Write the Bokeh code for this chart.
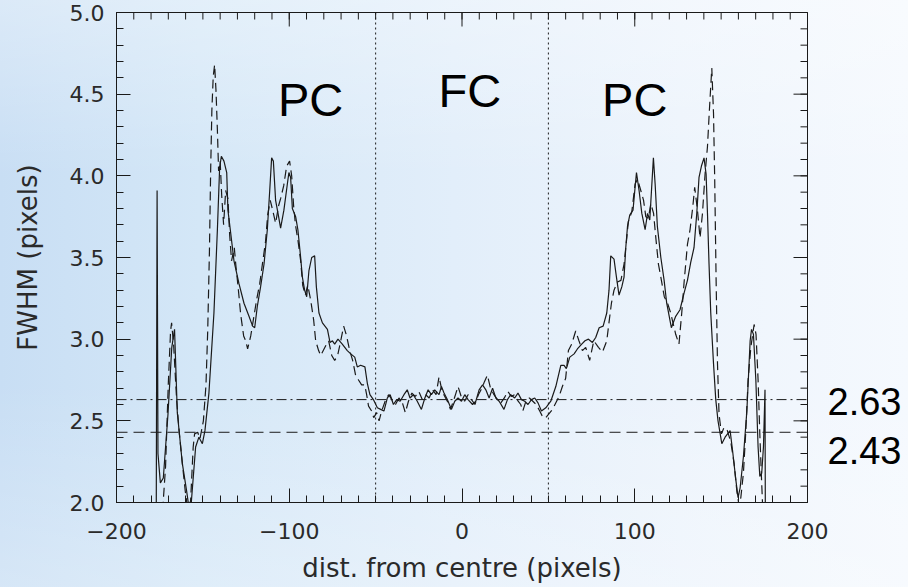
import math
from bokeh.plotting import figure
from bokeh.models import (ColumnDataSource, FixedTicker, LinearAxis, Span,
                          PrintfTickFormatter, Range1d)
from bokeh.core.properties import value
from bokeh.embed import file_html
from bokeh.resources import INLINE

# ---------------- data ----------------
solid_x = [-177.0, -176.5, -176.0, -174.6, -172.9, -170.2, -168.0, -166.4, -164.8, -161.9,
           -159.4, -157.8, -156.7, -154.2, -152.3, -150.3, -148.8, -146.5, -143.6, -141.6,
           -140.3, -139.3, -137.8, -136.2, -135.5, -133.9, -132.0, -129.1, -126.2, -123.3,
           -121.2, -120.0, -118.5, -116.6, -114.6, -112.7, -111.3, -110.2, -109.2, -107.9,
           -106.5, -105.0, -103.1, -101.1, -100.2, -99.2, -98.2, -96.3, -95.0, -93.4,
           -92.4, -91.1, -89.9, -88.6, -87.0, -85.3, -84.3, -82.8, -80.8, -77.9,
           -76.4, -75.0, -73.7, -71.8, -69.3, -66.4, -64.4, -62.1, -60.6, -58.7,
           -56.2, -54.8, -53.3, -51.3, -49.0, -47.1, -45.2, -43.2, -41.6, -39.7,
           -37.8, -35.8, -33.6, -31.7, -30.1, -28.2, -25.9, -23.5, -21.5, -19.6,
           -17.7, -15.8, -13.3, -11.9, -10.4, -8.5, -6.1, -4.2, -2.3, -0.3,
           1.6, 3.5, 6.1, 8.0, 9.9, 11.9, 13.8, 15.7, 17.7, 19.6,
           21.5, 24.3, 26.3, 28.2, 30.5, 32.4, 34.4, 36.3, 38.2, 40.2,
           42.1, 44.0, 46.0, 48.5, 51.4, 54.3, 57.2, 59.1, 60.4, 62.4,
           64.9, 66.8, 69.3, 71.2, 73.2, 75.5, 77.4, 79.4, 81.7, 83.8,
           85.1, 86.1, 88.0, 89.4, 90.9, 92.5, 93.8, 94.8, 95.8, 97.1,
           99.0, 100.2, 101.0, 102.5, 104.1, 106.0, 107.4, 108.7, 109.8, 110.8,
           111.8, 113.1, 115.1, 117.0, 118.5, 121.2, 123.7, 126.2, 128.5, 130.5,
           132.4, 134.3, 135.9, 137.2, 138.6, 140.1, 141.3, 142.1, 143.0, 144.0,
           145.6, 146.9, 148.2, 150.4, 152.3, 155.2, 156.6, 158.5, 159.8, 161.0,
           162.9, 164.9, 166.8, 167.6, 168.7, 170.1, 171.4, 172.4, 173.5, 174.5,
           175.4, 175.6]
solid_y = [1.90, 3.91, 2.30, 2.12, 2.15, 2.54, 2.95, 3.06, 2.55, 2.24,
           2.07, 1.95, 2.00, 2.34, 2.40, 2.36, 2.44, 2.67, 3.16, 3.67,
           4.05, 4.12, 4.09, 4.02, 3.79, 3.65, 3.48, 3.34, 3.22, 3.14,
           3.08, 3.07, 3.20, 3.32, 3.46, 3.67, 3.91, 4.11, 4.09, 3.85,
           3.77, 3.68, 3.79, 3.95, 4.02, 3.99, 3.80, 3.75, 3.67, 3.50,
           3.38, 3.30, 3.26, 3.42, 3.50, 3.51, 3.32, 3.16, 3.10, 3.06,
           2.98, 2.99, 2.97, 3.00, 2.97, 2.93, 2.91, 2.89, 2.83, 2.84,
           2.83, 2.73, 2.66, 2.63, 2.58, 2.57, 2.56, 2.64, 2.66, 2.60,
           2.63, 2.62, 2.66, 2.69, 2.64, 2.66, 2.62, 2.57, 2.64, 2.69,
           2.66, 2.69, 2.66, 2.71, 2.67, 2.63, 2.57, 2.62, 2.64, 2.62,
           2.66, 2.63, 2.60, 2.62, 2.69, 2.72, 2.69, 2.64, 2.70, 2.64,
           2.62, 2.57, 2.63, 2.66, 2.64, 2.67, 2.63, 2.62, 2.60, 2.63,
           2.64, 2.61, 2.56, 2.58, 2.62, 2.71, 2.84, 2.84, 2.82, 2.89,
           2.91, 2.94, 2.97, 2.99, 3.00, 2.98, 3.01, 3.07, 3.08, 3.16,
           3.30, 3.51, 3.49, 3.38, 3.27, 3.32, 3.38, 3.56, 3.69, 3.76,
           3.79, 3.93, 4.02, 3.91, 3.77, 3.67, 3.77, 3.73, 3.93, 4.11,
           3.95, 3.69, 3.50, 3.36, 3.22, 3.07, 3.14, 3.18, 3.28, 3.36,
           3.47, 3.56, 3.77, 3.99, 4.06, 4.11, 4.01, 3.77, 3.46, 3.16,
           2.85, 2.63, 2.50, 2.36, 2.40, 2.44, 2.32, 2.14, 2.03, 2.09,
           2.28, 2.56, 2.99, 3.06, 3.03, 2.75, 2.34, 2.16, 2.18, 2.34,
           2.69, 1.90]

dashed_x = [-173.3, -171.6, -170.0, -168.7, -168.1, -166.9, -165.2, -163.6, -161.7, -160.2,
            -158.8, -157.1, -155.6, -154.8, -153.0, -151.7, -149.7, -148.2, -147.2, -146.2,
            -145.5, -144.8, -144.0, -143.2, -142.4, -141.6, -140.9, -140.0, -139.1, -138.0,
            -136.8, -135.5, -134.5, -133.4, -131.8, -130.9, -129.7, -128.1, -126.4, -125.2,
            -124.1, -122.3, -120.6, -118.9, -117.1, -115.4, -113.7, -112.5, -111.0, -109.6,
            -107.9, -106.1, -105.0, -103.2, -101.5, -99.8, -98.6, -97.5, -96.4, -94.9,
            -93.4, -92.2, -90.7, -89.3, -87.6, -85.9, -84.7, -83.0, -81.8, -78.9,
            -77.2, -75.4, -73.7, -72.0, -70.2, -68.5, -66.8, -65.0, -63.3, -61.6,
            -59.9, -58.1, -56.3, -55.2, -54.1, -52.3, -51.1, -49.4, -48.0, -46.5,
            -44.5, -42.5, -40.5, -38.5, -36.5, -34.5, -32.8, -31.0, -29.0, -27.0,
            -25.0, -23.0, -21.0, -19.0, -17.0, -15.0, -13.3, -11.5, -9.5, -8.0,
            -6.7, -5.0, -3.5, -2.3, -0.5, 1.5, 3.5, 5.5, 7.5, 9.5,
            11.5, 13.0, 14.7, 16.5, 18.5, 20.5, 22.5, 24.5, 26.5, 28.5,
            30.5, 32.5, 34.0, 35.2, 37.0, 39.0, 41.0, 43.0, 45.0, 46.9,
            48.5, 52.4, 56.2, 58.1, 60.0, 61.6, 63.5, 65.8, 67.7, 69.7,
            71.6, 73.9, 76.3, 79.0, 81.3, 83.8, 85.3, 86.5, 88.0, 90.0,
            92.0, 93.8, 95.2, 96.3, 98.3, 100.2, 101.6, 103.5, 105.1, 106.4,
            107.9, 109.3, 110.9, 112.2, 113.7, 115.1, 117.1, 119.0, 120.8, 123.7,
            125.6, 127.2, 128.5, 130.5, 132.0, 133.6, 134.7, 136.3, 137.8, 139.2,
            140.7, 142.1, 143.3, 144.6, 145.6, 146.3, 147.1, 147.9, 148.8, 150.2,
            151.7, 153.6, 155.6, 157.5, 159.1, 160.4, 161.4, 162.9, 164.3, 165.6,
            167.2, 169.1, 170.2, 171.4, 172.4, 173.4, 174.1]
dashed_y = [1.95, 2.22, 2.73, 3.05, 3.10, 2.96, 2.63, 2.42, 2.22, 2.07,
            1.96, 2.01, 2.34, 2.42, 2.43, 2.39, 2.50, 2.72, 3.05, 3.54,
            4.03, 4.40, 4.61, 4.68, 4.52, 4.28, 4.03, 4.09, 3.88, 3.70,
            3.91, 3.86, 3.64, 3.48, 3.56, 3.45, 3.33, 3.15, 3.02, 2.99,
            2.94, 3.02, 3.13, 3.24, 3.34, 3.47, 3.60, 3.76, 3.85, 3.79,
            3.71, 3.82, 3.86, 3.94, 4.06, 4.09, 4.00, 3.82, 3.70, 3.60,
            3.48, 3.33, 3.27, 3.33, 3.24, 3.12, 2.99, 2.93, 2.90, 2.96,
            2.99, 2.90, 2.87, 2.90, 2.99, 3.08, 3.02, 2.93, 2.87, 2.78,
            2.75, 2.72, 2.72, 2.66, 2.59, 2.56, 2.52, 2.55, 2.50, 2.56,
            2.62, 2.66, 2.63, 2.60, 2.64, 2.61, 2.55, 2.62, 2.67, 2.65,
            2.68, 2.63, 2.66, 2.64, 2.69, 2.66, 2.77, 2.68, 2.64, 2.61,
            2.57, 2.62, 2.67, 2.71, 2.65, 2.62, 2.66, 2.63, 2.60, 2.66,
            2.70, 2.74, 2.78, 2.70, 2.66, 2.63, 2.61, 2.64, 2.68, 2.65,
            2.66, 2.62, 2.60, 2.56, 2.62, 2.64, 2.62, 2.60, 2.56, 2.52,
            2.52, 2.57, 2.65, 2.71, 2.76, 2.93, 2.97, 3.05, 2.99, 2.93,
            2.95, 2.87, 2.99, 2.95, 2.92, 2.99, 3.12, 3.22, 3.30, 3.35,
            3.36, 3.46, 3.60, 3.72, 3.78, 3.95, 3.98, 3.91, 3.85, 3.75,
            3.74, 3.83, 3.77, 3.62, 3.46, 3.38, 3.26, 3.22, 3.16, 3.03,
            2.97, 3.16, 3.34, 3.58, 3.67, 3.81, 3.93, 3.79, 3.62, 3.77,
            4.01, 4.18, 4.42, 4.66, 4.38, 3.97, 3.36, 2.85, 2.54, 2.42,
            2.46, 2.44, 2.37, 2.24, 2.07, 1.98, 2.03, 2.18, 2.44, 2.75,
            2.95, 3.09, 3.03, 2.75, 2.42, 2.14, 1.96]

region_names = ["PC", "FC", "PC"]
region_x = [-87.6, 4.5, 100.0]
region_y = [4.47, 4.52, 4.47]

boundaries = [-50, 50]
level_fc = 2.63
level_dash = 2.43
# vertical anchor of each level's value label (the lower one sits below its line)
level_label_y = [2.62, 2.32]

x_major = [-200, -100, 0, 100, 200]
x_minor = list(range(-200, 201, 10))
y_major = [2.0, 2.5, 3.0, 3.5, 4.0, 4.5, 5.0]
y_minor = [round(2.0 + 0.1 * i, 1) for i in range(31)]
X_MIN, X_MAX = -200, 200
Y_MIN, Y_MAX = 2.0, 5.0

# ---------------- figure ----------------
INK = "#1a1a1a"
LABEL_INK = "#2a2a2a"
TICK_FONT = "DejaVu Sans"

p = figure(width=908, height=587, output_backend="svg", toolbar_location=None,
           x_range=Range1d(X_MIN, X_MAX), y_range=Range1d(Y_MIN, Y_MAX),
           min_border_left=116, min_border_right=101, min_border_top=12,
           min_border_bottom=85, x_axis_location=None, y_axis_location=None)
p.grid.visible = False
p.background_fill_alpha = 0
p.border_fill_alpha = 0
p.outline_line_color = INK
p.outline_line_width = 1
p.styles = {"background-image":
            "linear-gradient(180deg, rgba(255,255,255,0.35) 0%, rgba(255,255,255,0) 30%, "
            "rgba(255,255,255,0) 65%, rgba(255,255,255,0.25) 100%), "
            "linear-gradient(90deg, #c8def4 0%, #d4e7f7 22%, #e2eefa 50%, #edf4fc 75%, #f5f9fe 100%)"}

xt = FixedTicker(ticks=x_major, minor_ticks=x_minor)
yt = FixedTicker(ticks=y_major, minor_ticks=y_minor)


def style_axis(ax):
    ax.axis_line_color = INK
    ax.major_tick_line_color = INK
    ax.minor_tick_line_color = INK
    ax.major_tick_in = 14
    ax.major_tick_out = 0
    ax.minor_tick_in = 7
    ax.minor_tick_out = 0
    ax.major_label_text_font = TICK_FONT
    ax.major_label_text_font_size = "22px"
    ax.major_label_text_color = LABEL_INK
    ax.axis_label_text_font = TICK_FONT
    ax.axis_label_text_font_size = "26px"
    ax.axis_label_text_font_style = "normal"
    ax.axis_label_text_color = LABEL_INK


xb = LinearAxis(ticker=xt, axis_label="dist. from centre (pixels)",
                major_label_overrides={-200: "\u2212200", -100: "\u2212100"})
style_axis(xb)
xb.major_label_standoff = 20
xb.axis_label_standoff = 11
p.add_layout(xb, "below")

yl = LinearAxis(ticker=yt, axis_label="FWHM (pixels)",
                formatter=PrintfTickFormatter(format="%.1f"))
style_axis(yl)
yl.major_label_standoff = 12
yl.axis_label_standoff = 24
p.add_layout(yl, "left")

# right-hand axis carrying the two level values as labels
yr = LinearAxis(ticker=FixedTicker(ticks=level_label_y, minor_ticks=[]),
                major_label_overrides={level_label_y[0]: f"{level_fc:.2f}",
                                       level_label_y[1]: f"{level_dash:.2f}"})
yr.axis_line_color = None
yr.major_tick_in = 0
yr.major_tick_out = 0
yr.minor_tick_in = 0
yr.minor_tick_out = 0
yr.major_label_standoff = 20
yr.major_label_text_font = "Liberation Sans"
yr.major_label_text_font_size = "38px"
yr.major_label_text_color = "black"
p.add_layout(yr, "right")

# mirrored inward ticks on the top and right frame edges (dash markers clipped by frame)
p.scatter(x_minor, [Y_MAX] * len(x_minor), marker="dash", size=14, angle=math.pi / 2,
          line_color=INK, line_width=1)
p.scatter(x_major, [Y_MAX] * len(x_major), marker="dash", size=28, angle=math.pi / 2,
          line_color=INK, line_width=1)
p.scatter([X_MAX] * len(y_minor), y_minor, marker="dash", size=14,
          line_color=INK, line_width=1)
p.scatter([X_MAX] * len(y_major), y_major, marker="dash", size=28,
          line_color=INK, line_width=1)

# reference lines
for b in boundaries:
    p.add_layout(Span(location=b, dimension="height", line_color=INK,
                      line_width=1, line_dash="2 3"))
p.add_layout(Span(location=level_fc, dimension="width", line_color=INK,
                  line_width=1, line_dash="10 4 2 4"))
p.add_layout(Span(location=level_dash, dimension="width", line_color=INK,
                  line_width=1, line_dash="11 6"))

# curves
p.line(solid_x, solid_y, line_color=INK, line_width=1.2)
p.line(dashed_x, dashed_y, line_color=INK, line_width=1.2, line_dash="9 5")

# region labels
src = ColumnDataSource(dict(x=region_x, y=region_y, t=region_names))
p.text(x="x", y="y", text="t", source=src, text_font=value("Liberation Sans"),
       text_font_size="47px", text_align="center", text_baseline="middle",
       text_color="black")

open("out.html", "w").write(file_html(p, INLINE))
